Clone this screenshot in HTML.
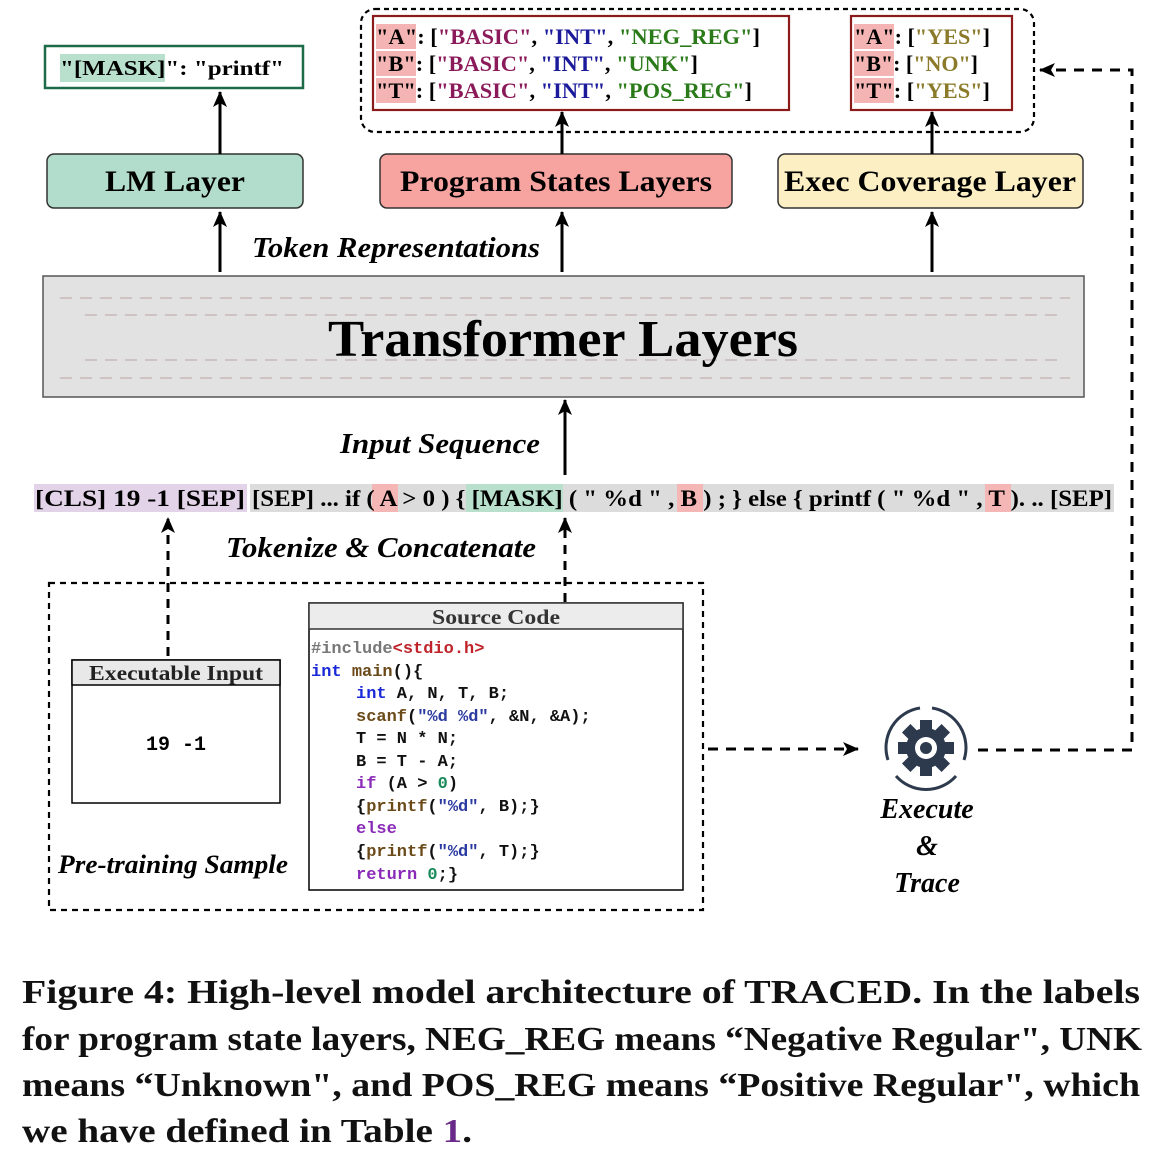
<!DOCTYPE html>
<html><head><meta charset="utf-8"><style>
html,body{margin:0;padding:0;background:#fff;}
svg{display:block;}
.s{font-family:"Liberation Serif",serif;font-weight:bold;}
.m{font-family:"Liberation Mono",monospace;font-weight:bold;}
</style></head><body>
<svg width="1156" height="1162" viewBox="0 0 1156 1162" xmlns="http://www.w3.org/2000/svg">
<defs>
<marker id="ah2" markerWidth="16" markerHeight="16" refX="15" refY="8" orient="auto" markerUnits="userSpaceOnUse"><path d="M0,1 L16,8 L0,15 L4,8 z" fill="#000"/></marker>
</defs>

<rect x="45" y="46" width="258" height="42" fill="#fff" stroke="#1e6b4a" stroke-width="2.5"/>
<rect x="60" y="54" width="105" height="28" fill="#b8e0cc"/>
<text x="60" y="75" class="s" font-size="21" textLength="224" lengthAdjust="spacingAndGlyphs">"[MASK]": "printf"</text>

<rect x="361" y="9" width="673" height="123" rx="14" fill="none" stroke="#000" stroke-width="2.2" stroke-dasharray="5,4"/>
<rect x="373" y="16" width="416" height="94" fill="#fff" stroke="#8b1a1a" stroke-width="2.2"/>
<rect x="851" y="16" width="161" height="94" fill="#fff" stroke="#8b1a1a" stroke-width="2.2"/>
<g class="s" font-size="22">
<rect x="376" y="24" width="40" height="25" fill="#f4b4b4"/>
<rect x="376" y="51" width="40" height="25" fill="#f4b4b4"/>
<rect x="376" y="78" width="40" height="25" fill="#f4b4b4"/>
<text x="376" y="44" textLength="384" lengthAdjust="spacingAndGlyphs">"A": [<tspan fill="#8b1a5a">"BASIC"</tspan>, <tspan fill="#1a1a9a">"INT"</tspan>, <tspan fill="#2a7a1a">"NEG_REG"</tspan>]</text>
<text x="376" y="71" textLength="322" lengthAdjust="spacingAndGlyphs">"B": [<tspan fill="#8b1a5a">"BASIC"</tspan>, <tspan fill="#1a1a9a">"INT"</tspan>, <tspan fill="#2a7a1a">"UNK"</tspan>]</text>
<text x="376" y="98" textLength="376" lengthAdjust="spacingAndGlyphs">"T": [<tspan fill="#8b1a5a">"BASIC"</tspan>, <tspan fill="#1a1a9a">"INT"</tspan>, <tspan fill="#2a7a1a">"POS_REG"</tspan>]</text>
<rect x="854" y="24" width="40" height="25" fill="#f4b4b4"/>
<rect x="854" y="51" width="40" height="25" fill="#f4b4b4"/>
<rect x="854" y="78" width="40" height="25" fill="#f4b4b4"/>
<text x="854" y="44" textLength="136" lengthAdjust="spacingAndGlyphs">"A": [<tspan fill="#8a7a2a">"YES"</tspan>]</text>
<text x="854" y="71" textLength="124" lengthAdjust="spacingAndGlyphs">"B": [<tspan fill="#8a7a2a">"NO"</tspan>]</text>
<text x="854" y="98" textLength="136" lengthAdjust="spacingAndGlyphs">"T": [<tspan fill="#8a7a2a">"YES"</tspan>]</text>
</g>

<rect x="47" y="154" width="256" height="54" rx="7" fill="#b2dccb" stroke="#333" stroke-width="1.5"/>
<rect x="380" y="154" width="352" height="54" rx="7" fill="#f7a3a0" stroke="#333" stroke-width="1.5"/>
<rect x="778" y="154" width="305" height="54" rx="7" fill="#fcefc4" stroke="#333" stroke-width="1.5"/>
<g class="s" font-size="30">
<text x="175" y="191" text-anchor="middle" textLength="140" lengthAdjust="spacingAndGlyphs">LM Layer</text>
<text x="556" y="191" text-anchor="middle" textLength="312" lengthAdjust="spacingAndGlyphs">Program States Layers</text>
<text x="930" y="191" text-anchor="middle" textLength="292" lengthAdjust="spacingAndGlyphs">Exec Coverage Layer</text>
</g>

<g stroke="#000" stroke-width="3" fill="none">
<line x1="220" y1="272" x2="220" y2="212" marker-end="url(#ah2)"/>
<line x1="220" y1="154" x2="220" y2="92" marker-end="url(#ah2)"/>
<line x1="562" y1="272" x2="562" y2="212" marker-end="url(#ah2)"/>
<line x1="562" y1="154" x2="562" y2="112" marker-end="url(#ah2)"/>
<line x1="932" y1="272" x2="932" y2="212" marker-end="url(#ah2)"/>
<line x1="932" y1="154" x2="932" y2="112" marker-end="url(#ah2)"/>
<line x1="565" y1="475" x2="565" y2="400" marker-end="url(#ah2)"/>
</g>
<text x="252" y="257" class="s" font-style="italic" font-size="28" textLength="288" lengthAdjust="spacingAndGlyphs">Token Representations</text>

<rect x="43" y="276" width="1041" height="121" fill="#e2e2e2" stroke="#555" stroke-width="1.5"/>
<g stroke="#c8b8b8" stroke-width="1.5" stroke-dasharray="12,8" fill="none">
<line x1="60" y1="298" x2="1070" y2="298"/><line x1="60" y1="378" x2="1070" y2="378"/>
<line x1="85" y1="315" x2="1060" y2="315"/><line x1="85" y1="360" x2="1060" y2="360"/>
</g>
<text x="563" y="356" class="s" font-size="52" text-anchor="middle" textLength="470" lengthAdjust="spacingAndGlyphs">Transformer Layers</text>

<text x="340" y="453" class="s" font-style="italic" font-size="28" textLength="200" lengthAdjust="spacingAndGlyphs">Input Sequence</text>

<rect x="34" y="484" width="213" height="28" fill="#e2d3e8"/>
<rect x="250" y="484" width="864" height="28" fill="#dcdcdc"/>
<rect x="372" y="484" width="26" height="28" fill="#f5b6b6"/>
<rect x="466" y="484" width="97" height="28" fill="#b8e0cc"/>
<rect x="677" y="484" width="26" height="28" fill="#f5b6b6"/>
<rect x="985" y="484" width="26" height="28" fill="#f5b6b6"/>
<g class="s" font-size="23">
<text x="35" y="506" textLength="210" lengthAdjust="spacingAndGlyphs">[CLS]  19   -1 [SEP]</text>
<text x="252" y="506" textLength="860" lengthAdjust="spacingAndGlyphs">[SEP] ... if ( A &gt; 0 ) { [MASK] ( " %d " , B ) ; } else { printf ( " %d " , T ). .. [SEP]</text>
</g>

<g stroke="#000" stroke-width="3" fill="none" stroke-dasharray="9,7">
<line x1="168" y1="656" x2="168" y2="518" marker-end="url(#ah2)"/>
<line x1="565" y1="602" x2="565" y2="518" marker-end="url(#ah2)"/>
</g>
<text x="226" y="557" class="s" font-style="italic" font-size="28" textLength="310" lengthAdjust="spacingAndGlyphs">Tokenize &amp; Concatenate</text>

<rect x="49" y="583" width="654" height="327" fill="none" stroke="#000" stroke-width="2.2" stroke-dasharray="6,5"/>
<rect x="72" y="660" width="208" height="143" fill="#fff" stroke="#000" stroke-width="1.5"/>
<rect x="72" y="660" width="208" height="25" fill="#e8e8e8" stroke="#000" stroke-width="1.5"/>
<text x="176" y="680" class="s" font-size="21" text-anchor="middle" fill="#222" textLength="174" lengthAdjust="spacingAndGlyphs">Executable Input</text>
<text x="176" y="750" class="m" font-size="20" text-anchor="middle">19 -1</text>

<rect x="309" y="603" width="374" height="287" fill="#fff" stroke="#000" stroke-width="1.5"/>
<rect x="309" y="603" width="374" height="26" fill="#ececec" stroke="#333" stroke-width="1.5"/>
<text x="496" y="624" class="s" font-size="21" text-anchor="middle" fill="#333" textLength="128" lengthAdjust="spacingAndGlyphs">Source Code</text>
<g class="m" font-size="17" fill="#111">
<text x="311" y="653"><tspan fill="#777">#include</tspan><tspan fill="#c0242a">&lt;stdio.h&gt;</tspan></text>
<text x="311" y="676"><tspan fill="#1a2ad8">int</tspan> <tspan fill="#6b4a1a">main</tspan>(){</text>
<text x="356" y="698"><tspan fill="#1a2ad8">int</tspan> A, N, T, B;</text>
<text x="356" y="721"><tspan fill="#6b4a1a">scanf</tspan>(<tspan fill="#2a3aa0">"%d %d"</tspan>, &amp;N, &amp;A);</text>
<text x="356" y="743">T = N * N;</text>
<text x="356" y="766">B = T - A;</text>
<text x="356" y="788"><tspan fill="#8a2ab8">if</tspan> (A &gt; <tspan fill="#1a8a5a">0</tspan>)</text>
<text x="356" y="811">{<tspan fill="#6b4a1a">printf</tspan>(<tspan fill="#2a3aa0">"%d"</tspan>, B);}</text>
<text x="356" y="833"><tspan fill="#8a2ab8">else</tspan></text>
<text x="356" y="856">{<tspan fill="#6b4a1a">printf</tspan>(<tspan fill="#2a3aa0">"%d"</tspan>, T);}</text>
<text x="356" y="879"><tspan fill="#8a2ab8">return</tspan> <tspan fill="#1a8a5a">0</tspan>;}</text>
</g>
<text x="58" y="873" class="s" font-style="italic" font-size="26" textLength="230" lengthAdjust="spacingAndGlyphs">Pre-training Sample</text>

<line x1="708" y1="749" x2="858" y2="749" stroke="#000" stroke-width="3" stroke-dasharray="10,8" marker-end="url(#ah2)"/>
<g transform="translate(926,748)" fill="#2d3a4e" stroke="#2d3a4e">
<path d="M-6,-40 A40,40 0 0 0 -38,12" fill="none" stroke-width="3"/>
<path d="M6,-40 A40,40 0 0 1 38,12" fill="none" stroke-width="3"/>
<path d="M-30,28 A40,40 0 0 0 30,28" fill="none" stroke-width="3"/>
<g stroke="none">
<circle r="20"/>
<rect x="-6" y="-28" width="12" height="56"/>
<rect x="-6" y="-28" width="12" height="56" transform="rotate(45)"/>
<rect x="-6" y="-28" width="12" height="56" transform="rotate(90)"/>
<rect x="-6" y="-28" width="12" height="56" transform="rotate(135)"/>
<circle r="11" fill="#fff"/>
<circle r="6"/>
</g>
</g>
<g class="s" font-style="italic" font-size="28" text-anchor="middle">
<text x="927" y="818">Execute</text>
<text x="927" y="855">&amp;</text>
<text x="927" y="892">Trace</text>
</g>
<path d="M978,750 L1132,750 L1132,70 L1040,70" fill="none" stroke="#000" stroke-width="3" stroke-dasharray="10,8" marker-end="url(#ah2)"/>

<g class="s" font-size="34" fill="#111">
<text x="22" y="1003" textLength="1118" lengthAdjust="spacingAndGlyphs">Figure 4: High-level model architecture of TRACED. In the labels</text>
<text x="22" y="1050" textLength="1120" lengthAdjust="spacingAndGlyphs">for program state layers, NEG_REG means “Negative Regular", UNK</text>
<text x="22" y="1096" textLength="1118" lengthAdjust="spacingAndGlyphs">means “Unknown", and POS_REG means “Positive Regular", which</text>
<text x="22" y="1142" textLength="450" lengthAdjust="spacingAndGlyphs">we have defined in Table <tspan fill="#6a2a8a">1</tspan>.</text>
</g>
</svg>
</body></html>
